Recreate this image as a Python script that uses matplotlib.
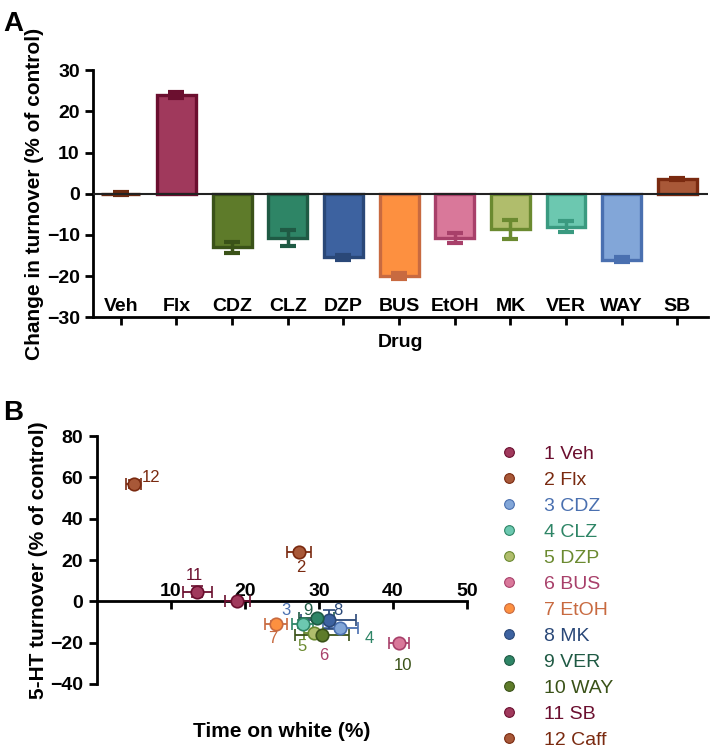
import matplotlib
matplotlib.use("Agg")
import matplotlib.pyplot as plt
from matplotlib.lines import Line2D

plt.rcParams['font.family'] = ['Liberation Sans', 'DejaVu Sans']

# panel A data
drugs = ['Veh', 'Flx', 'CDZ', 'CLZ', 'DZP', 'BUS', 'EtOH', 'MK', 'VER', 'WAY', 'SB']
change = [0.0, 24.0, -13.0, -10.8, -15.5, -20.0, -10.7, -8.6, -8.0, -16.0, 3.6]
change_sem = [0.4, 0.8, 1.3, 2.0, 0.6, 0.8, 1.2, 2.3, 1.3, 0.6, 0.3]
fills = ['#a0522d', '#a0395c', '#5e7b2a', '#2e8566', '#3d62a0', '#fd9040',
         '#d9789a', '#b0bd6c', '#6cc8b0', '#82a6d8', '#a85838']
edges = ['#6b2a10', '#6b0f2f', '#3a5218', '#1f5a44', '#2a4878', '#c86a40',
         '#a8406a', '#6b8a30', '#3a9a80', '#4a70b0', '#7a2a10']

# panel B data (number, name, time on white, sem, turnover, sem)
nums = [1, 2, 3, 4, 5, 6, 7, 8, 9, 10, 11, 12]
names = ['Veh', 'Flx', 'CDZ', 'CLZ', 'DZP', 'BUS', 'EtOH', 'MK', 'VER', 'WAY', 'SB', 'Caff']
time_white = [19.0, 27.3, 32.9, 27.8, 29.3, 40.8, 24.2, 31.3, 29.7, 30.4, 13.6, 5.0]
time_sem = [1.7, 1.6, 2.4, 1.4, 1.3, 1.4, 1.5, 3.7, 2.4, 3.6, 2.0, 1.0]
turnover = [0.0, 23.8, -13.1, -10.8, -15.2, -20.0, -10.8, -8.9, -8.3, -16.2, 4.7, 56.8]
turnover_sem = [0.5, 1.0, 1.3, 2.0, 0.6, 0.8, 1.2, 4.5, 1.3, 0.6, 2.5, 2.0]
pt_fill = ['#a0395c', '#a85838', '#82a6d8', '#6cc8b0', '#b0bd6c', '#d9789a',
           '#fd9040', '#3d62a0', '#2e8566', '#5e7b2a', '#a0395c', '#a85838']
pt_edge = ['#6b0f2f', '#7a2a10', '#4a70b0', '#2e8566', '#6b8a30', '#a8406a',
           '#c86a40', '#2a4878', '#1f5a44', '#3a5218', '#6b0f2f', '#7a2a10']
# number labels as placed in the figure
lab_nums = ['12', '2', '11', '3', '4', '5', '6', '7', '8', '9', '10']
lab_x = [7.4, 27.6, 13.2, 25.6, 36.8, 27.7, 30.6, 23.8, 32.6, 28.5, 41.3]
lab_y = [60, 16.4, 12.3, -4.5, -18, -22, -26, -18, -4.4, -4.4, -31]
lab_col = ['#7a2a10', '#7a2a10', '#6b0f2f', '#4a70b0', '#2e8566', '#6b8a30',
           '#a8406a', '#c86a40', '#2a4878', '#1f5a44', '#3a5218']

fig = plt.figure(figsize=(7.1, 7.48), dpi=100)

# ---- panel A ----
ax = fig.add_axes([0.131, 0.576, 0.866, 0.330])
x = list(range(len(drugs)))
ax.bar(x, change, width=0.7, color=fills, edgecolor=edges, linewidth=2.4, zorder=2)
for i in x:
    ax.errorbar(i, change[i], yerr=change_sem[i], color=edges[i], capsize=6,
                capthick=3, elinewidth=2.5, fmt='none', zorder=3)
ax.axhline(0, color='#222222', lw=1.5, zorder=4)
ax.set_xlim(-0.5, 10.55)
ax.set_ylim(-30, 30)
ax.set_yticks([-30, -20, -10, 0, 10, 20, 30])
ax.set_xticks(x)
ax.set_xticklabels(drugs, fontsize=14, fontweight='bold')
ax.tick_params(axis='x', pad=-20, length=6, width=2)
ax.tick_params(axis='y', length=6, width=2, labelsize=14)
for t in ax.get_yticklabels():
    t.set_fontweight('bold')
ax.spines['top'].set_visible(False)
ax.spines['right'].set_visible(False)
ax.spines['left'].set_linewidth(2)
ax.spines['bottom'].set_linewidth(2)
ax.set_ylabel('Change in turnover (% of control)', fontsize=15, fontweight='bold', labelpad=2)
ax.set_xlabel('Drug', fontsize=14, fontweight='bold', labelpad=6)
fig.text(0.005, 0.985, 'A', fontsize=20, fontweight='bold', va='top')

# ---- panel B ----
bx = fig.add_axes([0.136, 0.0856, 0.522, 0.3314])
for i in range(len(nums)):
    bx.errorbar(time_white[i], turnover[i], xerr=time_sem[i], yerr=turnover_sem[i],
                fmt='o', ms=9, mfc=pt_fill[i], mec=pt_edge[i], mew=1.2,
                ecolor=pt_edge[i], elinewidth=1.3, capsize=4, capthick=1.3, zorder=3)
for s, lx, ly, c in zip(lab_nums, lab_x, lab_y, lab_col):
    bx.text(lx, ly, s, color=c, fontsize=12, ha='center', va='center')
bx.set_xlim(0, 50)
bx.set_ylim(-40, 80)
bx.set_xticks([10, 20, 30, 40, 50])
bx.set_yticks([-40, -20, 0, 20, 40, 60, 80])
bx.spines['bottom'].set_position(('data', 0))
bx.spines['top'].set_visible(False)
bx.spines['right'].set_visible(False)
bx.spines['left'].set_linewidth(2)
bx.spines['bottom'].set_linewidth(2)
bx.tick_params(axis='x', pad=-19, length=6, width=2, labelsize=14)
bx.tick_params(axis='y', length=6, width=2, labelsize=14)
for t in bx.get_xticklabels() + bx.get_yticklabels():
    t.set_fontweight('bold')
bx.set_ylabel('5-HT turnover (% of control)', fontsize=15, fontweight='bold', labelpad=2)
bx.set_xlabel('Time on white (%)', fontsize=15, fontweight='bold')
bx.xaxis.set_label_coords(0.5, -0.155)
fig.text(0.005, 0.465, 'B', fontsize=20, fontweight='bold', va='top')

handles = [Line2D([], [], ls='none', marker='o', ms=7, mfc=pt_fill[i], mec=pt_edge[i], mew=0.8)
           for i in range(len(nums))]
labels = ['%d %s' % (n, m) for n, m in zip(nums, names)]
fig.legend(handles, labels, loc='upper left', bbox_to_anchor=(0.69, 0.4175),
           frameon=False, fontsize=14, labelcolor=pt_edge, handlelength=1.0,
           handletextpad=1.3, labelspacing=0.43, borderpad=0)

fig.savefig('out.png', dpi=100)
